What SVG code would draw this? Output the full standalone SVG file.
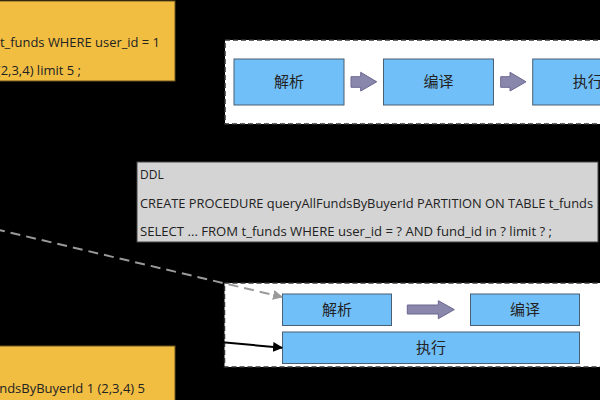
<svg xmlns="http://www.w3.org/2000/svg" width="600" height="400" viewBox="0 0 600 400">
<style>
.code{font-family:"Open Sans","Liberation Sans",sans-serif;font-size:13px;fill:#222}
.ddl{font-family:"Open Sans","Liberation Sans",sans-serif;font-size:12px;fill:#222}
.yel{fill:#f1be42;stroke:#6b5420;stroke-width:1}
.cont{fill:#ffffff;stroke:#333;stroke-width:1.5;stroke-dasharray:5,3}
.step{fill:#71bff8;stroke:#4a5f73;stroke-width:1}
.lbl{font-family:"Noto Sans CJK SC","Noto Sans",sans-serif;font-size:15px;fill:#222;text-anchor:middle}
.barrow{fill:#8a87ad;stroke:#6a6790;stroke-width:1}
</style>
<defs>
<marker id="ag" viewBox="0 0 10 10" refX="9" refY="5" markerWidth="5" markerHeight="5" orient="auto" markerUnits="strokeWidth"><path d="M0,0 L10,5 L0,10 z" fill="#9a9a9a"/></marker>
<marker id="ab" viewBox="0 0 10 10" refX="9" refY="5" markerWidth="5" markerHeight="5" orient="auto" markerUnits="strokeWidth"><path d="M0,0 L10,5 L0,10 z" fill="#000"/></marker>
</defs>
<rect x="0" y="0" width="600" height="400" fill="#000"/>

<g id="sql-top">
<rect class="yel" x="-10" y="1" width="185" height="80"/>
<text class="code" x="0" y="46.5" textLength="160" lengthAdjust="spacingAndGlyphs">t_funds WHERE user_id = 1</text>
<text class="code" x="81" y="74.5" text-anchor="end">(2,3,4) limit 5 ;</text>
</g>

<g id="pipeline-top">
<rect class="cont" x="225" y="40" width="400" height="84"/>
<g id="top-parse"><rect class="step" x="234" y="59" width="110" height="46"/><text class="lbl" x="289" y="87">解析</text></g>
<g id="top-compile"><rect class="step" x="383.5" y="59" width="110" height="46"/><text class="lbl" x="438.5" y="87">编译</text></g>
<g id="top-exec"><rect class="step" x="532.7" y="59" width="110" height="46"/><text class="lbl" x="587.7" y="87">执行</text></g>
<path class="barrow" d="M351,76.7 H360.7 V72.3 L376.7,81.8 L360.7,91 V87.3 H351 Z"/>
<path class="barrow" d="M500.7,76.7 H510 V72.3 L526,81.8 L510,91 V87.3 H500.7 Z"/>
</g>

<g id="ddl">
<rect x="137" y="162" width="461" height="80" fill="#d4d4d4" stroke="#444" stroke-width="1"/>
<text class="ddl" x="140" y="179">DDL</text>
<text class="ddl" x="140" y="208" textLength="453" lengthAdjust="spacingAndGlyphs">CREATE PROCEDURE queryAllFundsByBuyerId PARTITION ON TABLE t_funds</text>
<text class="ddl" x="140" y="236" textLength="412" lengthAdjust="spacingAndGlyphs">SELECT ... FROM t_funds WHERE user_id = ? AND fund_id in ? limit ? ;</text>
</g>

<g id="pipeline-bottom">
<rect class="cont" x="224.5" y="283" width="400" height="84"/>
<g id="bot-parse"><rect class="step" x="282.5" y="294" width="109" height="31.5"/><text class="lbl" x="337" y="315">解析</text></g>
<g id="bot-compile"><rect class="step" x="470.5" y="294" width="109" height="31.5"/><text class="lbl" x="525" y="315">编译</text></g>
<g id="bot-exec"><rect class="step" x="282.5" y="332" width="297" height="31.5"/><text class="lbl" x="431" y="353">执行</text></g>
<path class="barrow" d="M407.3,305 H438.3 V300.7 L454.3,309.6 L438.3,318.7 V314 H407.3 Z"/>
</g>

<g id="sql-bottom">
<rect class="yel" x="-10" y="346" width="185" height="64"/>
<text class="code" x="145" y="393" text-anchor="end">ndsByBuyerId 1 (2,3,4) 5</text>
</g>

<g id="connectors">
<path d="M-5,229 L282,297" fill="none" stroke="#9a9a9a" stroke-width="2" stroke-dasharray="10,6" marker-end="url(#ag)"/>
<path d="M175,338 L282,347.7" fill="none" stroke="#000" stroke-width="2" marker-end="url(#ab)"/>
</g>
</svg>
